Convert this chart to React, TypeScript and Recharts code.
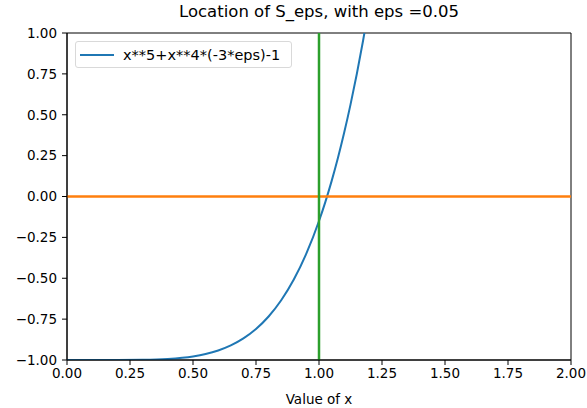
import { LineChart, Line, XAxis, YAxis, ReferenceLine, ReferenceArea } from 'recharts';

const xValues = [0, 0.1, 0.2, 0.3, 0.4, 0.5, 0.55, 0.6, 0.65, 0.7, 0.75, 0.8, 0.85, 0.9, 0.95, 1.0, 1.025, 1.05, 1.075, 1.1, 1.125, 1.15, 1.175, 1.2];
const curveValues = [-1, -1, -0.9999, -0.9988, -0.9936, -0.9781, -0.9634, -0.9417, -0.9107, -0.8679, -0.8102, -0.7338, -0.6346, -0.5079, -0.3484, -0.15, -0.0342, 0.094, 0.2353, 0.3909, 0.5618, 0.749, 0.9538, 1.1773];
const xTicks = [0, 0.25, 0.5, 0.75, 1, 1.25, 1.5, 1.75, 2];
const yTicks = [-1, -0.75, -0.5, -0.25, 0, 0.25, 0.5, 0.75, 1];
const seriesName = 'x**5+x**4*(-3*eps)-1';
const title = 'Location of S_eps, with eps =0.05';
const xLabel = 'Value of x';
const hLineY = 0;
const vLineX = 1;

const data = xValues.map((x, i) => ({ x, y: curveValues[i] }));

const font = '"DejaVu Sans", sans-serif';
const fmt = (v: number) => v.toFixed(2).replace('-', '\u2212');

const LegendBox = () => (
  <div
    style={{
      position: 'absolute',
      left: 75,
      top: 41,
      boxSizing: 'border-box',
      width: 217,
      height: 27,
      border: '1px solid #d9d9d9',
      borderRadius: 3,
      background: 'rgba(255,255,255,0.8)',
      display: 'flex',
      alignItems: 'center',
      padding: '0 6px 0 2px',
      fontFamily: font,
      fontSize: 14.5,
      color: '#000',
      whiteSpace: 'nowrap',
    }}
  >
    <svg width={45} height={10} style={{ flex: 'none' }}>
      <line x1={2} y1={5} x2={36} y2={5} stroke="#1f77b4" strokeWidth={2} />
    </svg>
    <span>{seriesName}</span>
  </div>
);

const App = () => {
  return (
    <div style={{ position: 'absolute', left: 0, top: 0, width: 587, height: 408, background: '#fff' }}>
      <div
        style={{
          position: 'absolute',
          top: 2,
          left: 67,
          width: 504,
          textAlign: 'center',
          fontFamily: font,
          fontSize: 16.5,
          color: '#000',
        }}
      >
        {title}
      </div>
      <LineChart width={587} height={408} data={data} margin={{ top: 33, right: 16, bottom: 0, left: 7 }}>
        <XAxis
          dataKey="x"
          type="number"
          domain={[0, 2]}
          ticks={xTicks}
          tickFormatter={fmt}
          allowDataOverflow
          height={48}
          stroke="#000"
          tickSize={5}
          tickMargin={3}
          tick={{ fill: '#000', fontSize: 13.5, fontFamily: font }}
          label={{ value: xLabel, position: 'insideBottom', offset: 4, fill: '#000', fontSize: 13.5, fontFamily: font }}
        />
        <YAxis
          type="number"
          domain={[-1, 1]}
          ticks={yTicks}
          tickFormatter={fmt}
          allowDataOverflow
          width={60}
          stroke="#000"
          tickSize={5}
          tickMargin={5}
          tick={{ fill: '#000', fontSize: 13.5, fontFamily: font }}
        />
        <Line
          type="monotone"
          dataKey="y"
          name={seriesName}
          stroke="#1f77b4"
          strokeWidth={2}
          dot={false}
          isAnimationActive={false}
        />
        <ReferenceLine y={hLineY} stroke="#ff7f0e" strokeWidth={2.5} />
        <ReferenceLine x={vLineX} stroke="#2ca02c" strokeWidth={2.5} />
        <ReferenceArea x1={0} x2={2} y1={-1} y2={1} fill="none" stroke="#000" strokeWidth={1} />
      </LineChart>
      <LegendBox />
    </div>
  );
};

export default App;
